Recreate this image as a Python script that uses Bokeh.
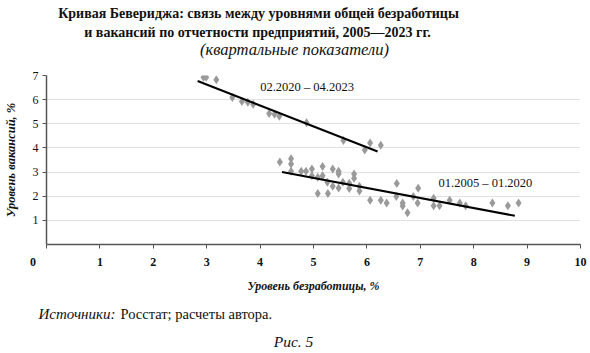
from bokeh.plotting import figure
from bokeh.models import Label, FixedTicker, Range1d
from bokeh.layouts import column, row
from bokeh.embed import file_html
from bokeh.resources import INLINE

# Data: 01.2005-01.2020 (unemployment %, vacancy %)
u_pre = [4.37, 4.58, 4.58, 4.58, 4.77, 4.86, 4.97, 5.17, 5.36, 5.47, 5.47, 5.76, 5.76,
         4.97, 5.08, 5.17, 5.26, 5.36, 5.47, 5.55, 5.67, 5.67, 5.86, 5.86, 5.08, 5.27,
         6.06, 6.26, 6.37, 6.56, 6.55, 6.67, 6.67, 6.76, 6.96, 6.87, 6.95, 7.25, 7.25,
         7.36, 7.55, 7.74, 7.85, 8.35, 8.64, 8.84]
v_pre = [3.42, 3.55, 3.33, 3.03, 3.03, 3.03, 3.13, 3.23, 3.13, 3.03, 2.92, 2.92, 2.74,
         2.85, 2.79, 2.85, 2.58, 2.41, 2.34, 2.58, 2.54, 2.32, 2.41, 2.22, 2.11, 2.11,
         1.83, 1.83, 1.72, 2.53, 1.99, 1.72, 1.59, 1.32, 2.33, 1.99, 1.72, 1.92, 1.61,
         1.61, 1.83, 1.72, 1.61, 1.72, 1.61, 1.72]
# Data: 02.2020-04.2023
u_post = [2.94, 2.99, 3.18, 3.48, 3.66, 3.77, 3.87, 4.17, 4.27, 4.36, 4.87, 5.56, 5.96, 6.06, 6.26]
v_post = [6.93, 6.93, 6.82, 6.09, 5.92, 5.89, 5.81, 5.43, 5.40, 5.31, 5.04, 4.31, 3.91, 4.20, 4.11]
# Trend lines
trend_pre_x = [4.41, 8.77]
trend_pre_y = [3.00, 1.19]
trend_post_x = [2.83, 6.20]
trend_post_y = [6.77, 3.85]

x_ticks = [0, 1, 2, 3, 4, 5, 6, 7, 8, 9, 10]
y_ticks = [1, 2, 3, 4, 5, 6, 7]
x_tick_labels = {0: "0\u00a0\u00a0\u00a0\u00a0\u00a0\u00a0\u00a0\u00a0\u00a0"}

SERIF = "Liberation Serif"
W = 590
TOP_H, MAIN_H, BOT_H = 62, 233, 58
L, R, T, B = 45, 10, 13, 47


def text_fig(h):
    f = figure(width=W, height=h, output_backend="svg", toolbar_location=None,
               x_range=Range1d(0, W), y_range=Range1d(h, 0),
               min_border=0, min_border_left=0, min_border_right=0,
               min_border_top=0, min_border_bottom=0)
    f.axis.visible = False
    f.grid.visible = False
    f.outline_line_color = None
    return f


def put(f, text, x, y, size, style="normal", align="center"):
    f.add_layout(Label(x=x, y=y, text=text, text_font=SERIF,
                       text_font_size=f"{size}px", text_font_style=style,
                       text_align=align, text_baseline="middle",
                       text_color="#111111"))


# --- titles
top = text_fig(TOP_H)
put(top, "Кривая Бевериджа: связь между уровнями общей безработицы", 258, 13, 14, "bold")
put(top, "и вакансий по отчетности предприятий, 2005—2023 гг.", 257, 32, 14, "bold")
put(top, "(квартальные показатели)", 294, 49, 16.5, "italic")

# --- main chart
p = figure(width=W, height=MAIN_H, output_backend="svg", toolbar_location=None,
           x_range=Range1d(0, 10), y_range=Range1d(0, 7),
           min_border_left=L, min_border_right=R, min_border_top=T, min_border_bottom=B)
p.outline_line_color = None
p.xgrid.grid_line_color = None
p.ygrid.grid_line_color = "#e2e2e2"
p.ygrid.grid_line_width = 1.2

p.xaxis.ticker = FixedTicker(ticks=x_ticks)
p.yaxis.ticker = FixedTicker(ticks=y_ticks)
p.xaxis.major_label_overrides = x_tick_labels
for ax in (p.xaxis, p.yaxis):
    ax.axis_line_color = "#555555"
    ax.axis_line_width = 1.5
    ax.major_tick_line_color = "#555555"
    ax.major_tick_in = 0
    ax.major_tick_out = 4
    ax.minor_tick_line_color = None
    ax.major_label_text_font = SERIF
    ax.major_label_text_font_size = "12px"
    ax.major_label_text_color = "#111111"
    ax.axis_label_text_font = SERIF
    ax.axis_label_text_font_style = "bold italic"
    ax.axis_label_text_color = "#111111"
p.xaxis.major_label_text_font_style = "bold"
p.xaxis.major_label_standoff = 6
p.yaxis.major_label_standoff = 4
p.yaxis.axis_label = "Уровень вакансий, %"
p.yaxis.axis_label_text_font_size = "12.5px"
p.yaxis.axis_label_standoff = 12
p.xaxis.axis_label = "Уровень безработицы, %"
p.xaxis.axis_label_text_font_size = "12px"
p.xaxis.axis_label_standoff = 7

p.scatter(u_pre, v_pre, marker="diamond", size=9, color="#9a9a9a", line_color=None)
p.scatter(u_post, v_post, marker="diamond", size=9, color="#9a9a9a", line_color=None)
p.line(trend_pre_x, trend_pre_y, line_color="black", line_width=2)
p.line(trend_post_x, trend_post_y, line_color="black", line_width=2)

p.add_layout(Label(x=4.88, y=6.52, text="02.2020 – 04.2023", text_font=SERIF,
                   text_font_size="12.5px", text_align="center", text_baseline="middle",
                   text_color="#111111"))
p.add_layout(Label(x=8.22, y=2.56, text="01.2005 – 01.2020", text_font=SERIF,
                   text_font_size="12.5px", text_align="center", text_baseline="middle",
                   text_color="#111111"))

# --- footer
bot = text_fig(BOT_H)
put(bot, "Источники:", 38, 18, 15, "italic", "left")
put(bot, "Росстат; расчеты автора.", 120, 18, 14.5, "normal", "left")
put(bot, "Рис. 5", 293, 46, 15.5, "italic")

layout = column(row(top), p, row(bot), spacing=0)
open("out.html", "w").write(file_html(layout, INLINE))
